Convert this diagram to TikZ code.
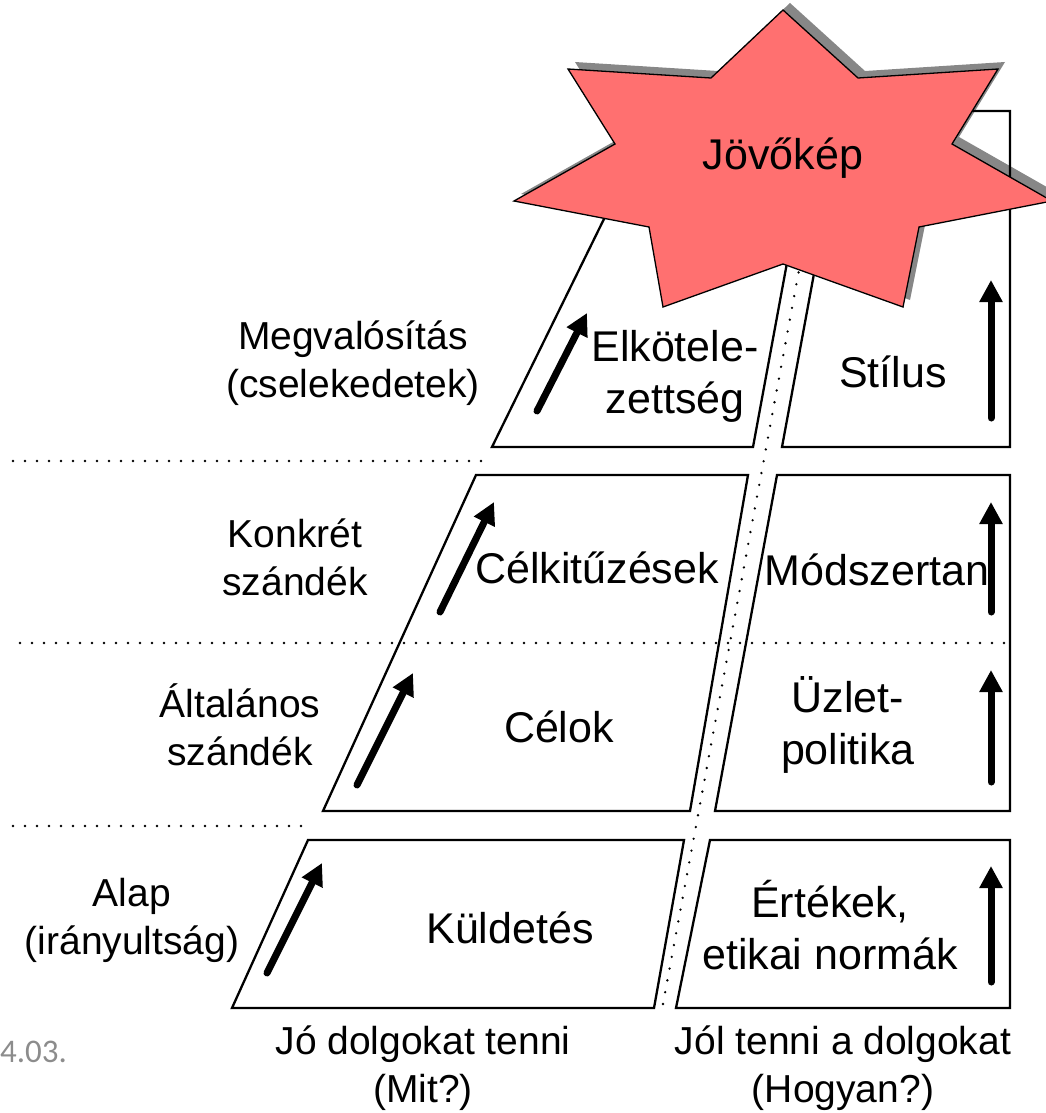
\documentclass[tikz,border=0pt]{standalone}
\usepackage{fontspec}
\setmainfont{Liberation Sans}
\newfontfamily\datefont{Carlito}
\usetikzlibrary{arrows.meta}
\definecolor{starred}{RGB}{255,112,112}
\definecolor{shadowgray}{RGB}{135,135,135}
\definecolor{dategray}{RGB}{140,140,140}
\begin{document}
\begin{tikzpicture}[x=1pt,y=-1pt,
  panel/.style={draw=black,line width=2.3pt,line join=miter},
  sep/.style={draw=black,line width=2.6pt,line cap=round,dash pattern=on 0pt off 12pt},
  up/.style={line width=7pt,line cap=round,-{Triangle[length=22pt,width=22pt]}},
  lbl/.style={font=\fontsize{43}{52}\selectfont,align=center,inner sep=0pt},
  side/.style={font=\fontsize{39}{48}\selectfont,align=center,inner sep=0pt},
  starshape/.style={insert path={(783,10) -- (858,78) -- (998,69) -- (952,144)
     -- (1052,201) -- (919,227) -- (903,307) -- (783,264) -- (663,307)
     -- (649,227) -- (514,201) -- (615,144) -- (568,69) -- (711,78) -- cycle}},
]
\useasboundingbox (0,0) rectangle (1046,1113);

% drop shadow of the star
\begin{scope}[shift={(7,-7)}]
  \path[fill=shadowgray,starshape];
\end{scope}

% left column: "what" panels
\draw[panel] (657,111) -- (815,111) -- (753,447) -- (492,447) -- cycle;
\draw[panel] (476,475) -- (748,475) -- (690,811) -- (323,811) -- cycle;
\draw[panel] (308,840) -- (684,840) -- (654,1008) -- (232,1008) -- cycle;

% right column: "how" panels
\draw[panel] (844,111) -- (1010,111) -- (1010,447) -- (782,447) -- cycle;
\draw[panel] (777,475) -- (1010,475) -- (1010,811) -- (715,811) -- cycle;
\draw[panel] (710,840) -- (1010,840) -- (1010,1008) -- (676,1008) -- cycle;

% level separators and the dividing line between the columns
\draw[sep] (13,461) -- (485,461);
\draw[sep] (20,643) -- (1005,643);
\draw[sep] (13,826) -- (308,826);
\draw[sep] (663,1004) -- (812,200);

% direction arrows
\draw[up] (267,973) -- (322,863);
\draw[up] (357,785) -- (413,673);
\draw[up] (440,612) -- (494,502);
\draw[up] (537,411) -- (587,313);
\draw[up] (991,982) -- (991,866);
\draw[up] (991,782) -- (991,670);
\draw[up] (991,612) -- (991,502);
\draw[up] (991,418) -- (991,280);

% level labels
\node[side] (megv) at (353,363) {Megvalósítás\\(cselekedetek)};
\node[side] (konk) at (295,557) {Konkrét\\szándék};
\node[side] (alt) at (240,725) {Általános\\szándék};
\node[side] (alap) at (132,920) {Alap\\(irányultság)};

% panel texts
\node[lbl] (kuld) at (510,928) {Küldetés};
\node[lbl] (celok) at (559,727) {Célok};
\node[lbl] (celk) at (597,568) {Célkitűzések};
\node[lbl] (elk) at (675,376) {Elkötele-\\zettség};
\node[lbl] (stil) at (893,372) {Stílus};
\node[lbl] (modsz) at (877,570) {Módszertan};
\node[lbl] (uzlet) at (848,725) {Üzlet-\\politika};
\node[lbl] (ert) at (830,925) {Értékek,\\etikai normák};

% column captions
\node[side] (mit) at (423,1068) {Jó dolgokat tenni\\(Mit?)};
\node[side] (hogy) at (843,1068) {Jól tenni a dolgokat\\(Hogyan?)};
\node[font=\datefont\fontsize{33}{33}\selectfont,text=dategray,anchor=west,inner sep=0pt] (date) at (0,1052) {4.03.};

% the vision star on top
\path[fill=starred,draw=black,line width=1.3pt,line join=miter,starshape];
\node[lbl] (jovo) at (783,158) {Jövőkép};
\end{tikzpicture}
\end{document}
